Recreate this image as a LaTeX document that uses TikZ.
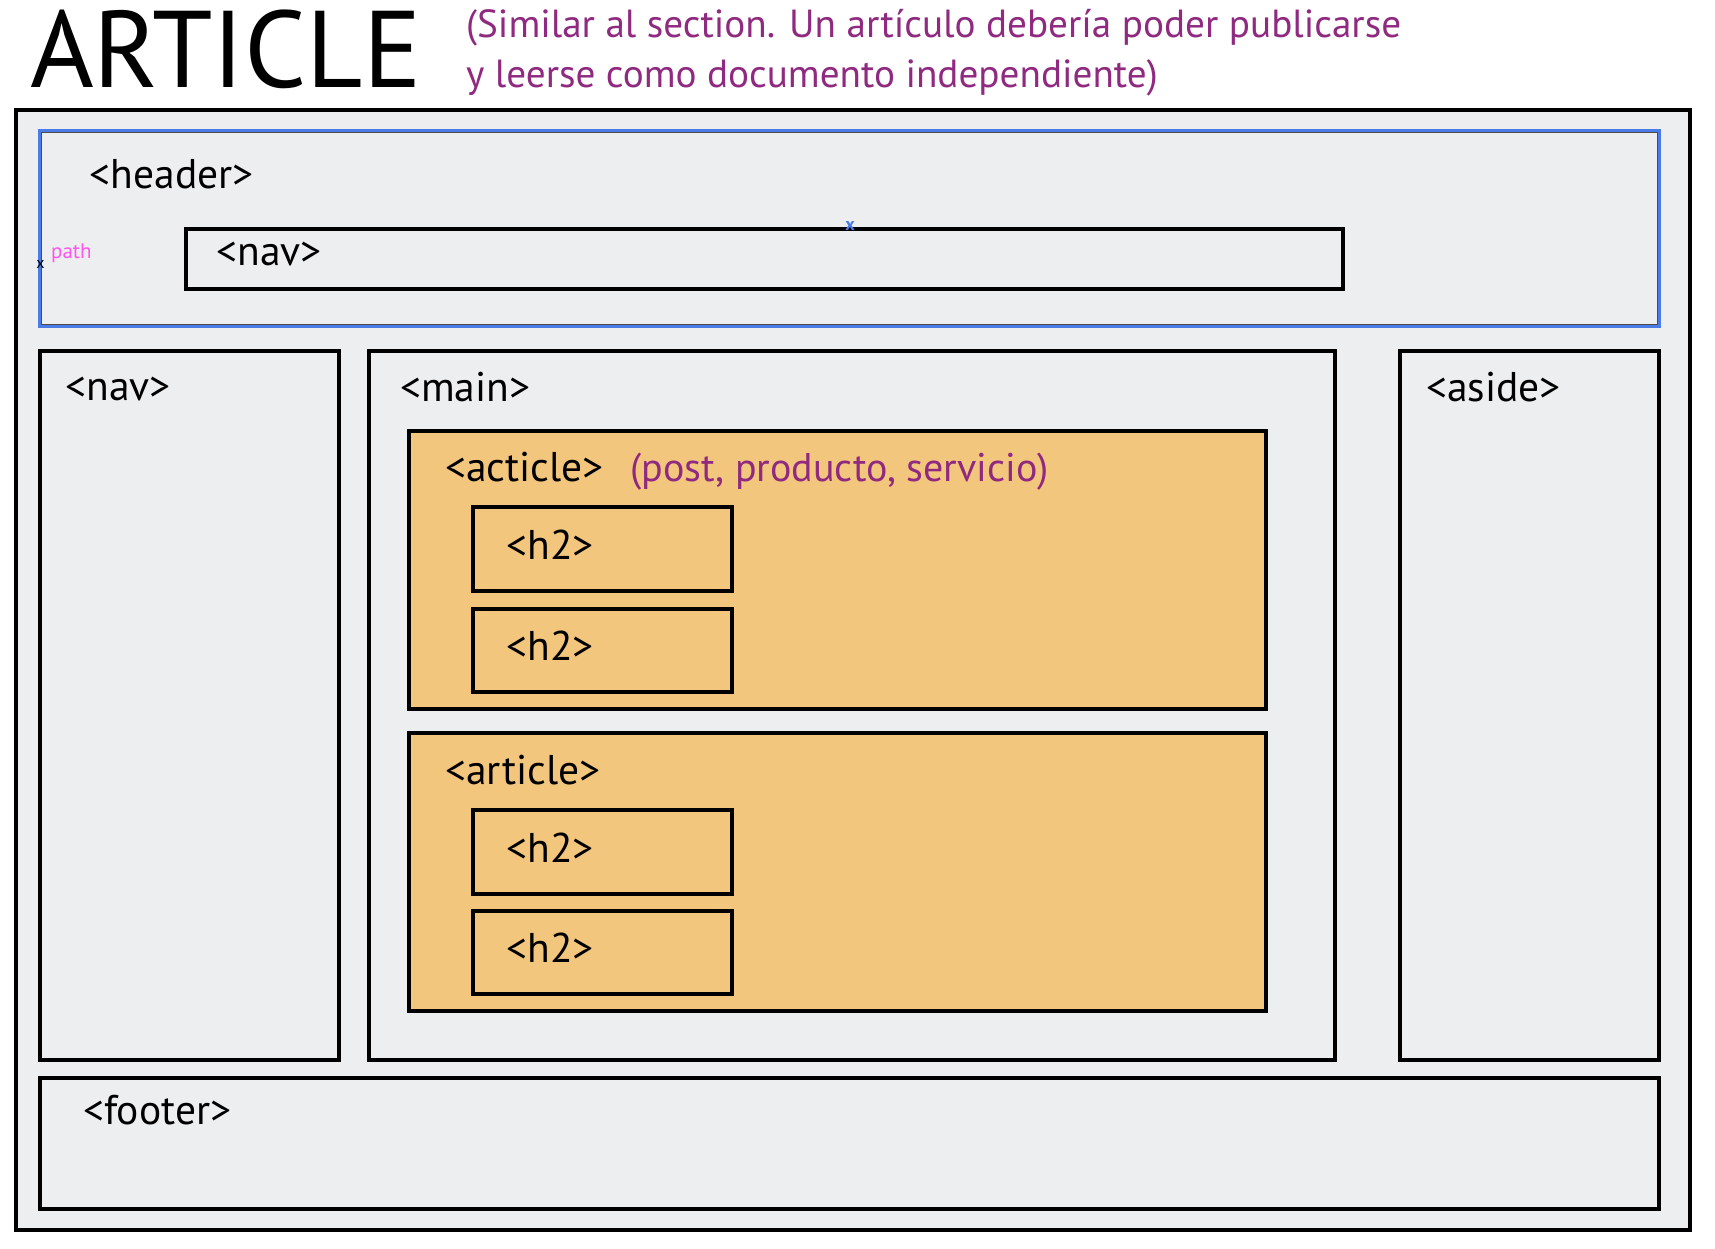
\documentclass[tikz,border=0pt]{standalone}
\usepackage{fontspec}
\setmainfont{PT Sans}
\definecolor{bgray}{HTML}{EDEEF0}
\definecolor{orng}{HTML}{F3C67D}
\definecolor{purp}{HTML}{8F2A80}
\definecolor{magn}{HTML}{FF55EE}
\definecolor{blu}{HTML}{4A7BE6}
\tikzset{
  box/.style={draw=black, line width=4pt, fill=bgray},
  obox/.style={draw=black, line width=4pt, fill=orng},
  lbl/.style={anchor=base west, inner sep=0pt, font=\fontsize{41.5}{48}\selectfont},
  plbl/.style={anchor=base west, inner sep=0pt, text=purp, font=\fontsize{40}{48}\selectfont},
}
\begin{document}
\begin{tikzpicture}[x=1pt,y=-1pt]
\useasboundingbox (0,0) rectangle (1715,1248);
\fill[white] (0,0) rectangle (1715,1248);
% outer frame
\draw[box] (15.5,109.5) rectangle (1689.5,1230);
% header
\fill[bgray] (39.5,130) rectangle (1659,326);
\draw[blu, line width=3pt] (39.5,130) rectangle (1659,326);
\draw[black!70, line width=0.6pt] (41.5,132) rectangle (1657,324);
\draw[box] (186,229) rectangle (1343,289);
% columns
\draw[box] (39.5,351) rectangle (339,1060);
\draw[box] (368.5,351) rectangle (1334.5,1060);
\draw[box] (1400,351) rectangle (1659,1060);
\draw[box] (39.5,1078) rectangle (1659,1209);
% articles
\draw[obox] (409,430.5) rectangle (1266,708.5);
\draw[obox] (409,733) rectangle (1266,1011);
\draw[obox] (473,507) rectangle (731.5,590.5);
\draw[obox] (473,608.5) rectangle (731.5,691.5);
\draw[obox] (473,810) rectangle (731.5,893.5);
\draw[obox] (473,910.5) rectangle (731.5,994);
% title
\node[anchor=base west, inner sep=0pt, font=\fontsize{109}{120}\selectfont] (title) at (30,87.5) {ARTICLE};
\node[anchor=north west, inner sep=0pt, text=purp, align=left, font=\fontsize{39.2}{49.5}\selectfont] (sub) at (466,9.5) {(Similar al section. Un artículo debería poder publicarse\\y leerse como documento independiente)};
% labels
\node[lbl] (lheader) at (89.5,188) {<header>};
\node[lbl] (lnav1) at (216.5,265) {<nav>};
\node[lbl] (lnav2) at (65.5,400) {<nav>};
\node[lbl] (lmain) at (400,401) {<main>};
\node[lbl] (laside) at (1426,401) {<aside>};
\node[lbl] (lacticle) at (445,481) {<acticle>};
\node[plbl] (lpost) at (630,481) {(post, producto, servicio)};
\node[lbl] (larticle) at (445,784) {<article>};
\node[lbl] (lh2a) at (506.5,559) {<h2>};
\node[lbl] (lh2b) at (506.5,660) {<h2>};
\node[lbl] (lh2c) at (506.5,862) {<h2>};
\node[lbl] (lh2d) at (506.5,962.5) {<h2>};
\node[lbl] (lfooter) at (83,1124) {<footer>};
% editor marks
\node[anchor=base west, inner sep=0pt, text=magn, font=\fontsize{21}{24}\selectfont] (lpath) at (51,258) {path};
\node[inner sep=0pt, font=\fontsize{16}{18}\selectfont] (xmark1) at (40.5,264) {x};
\node[inner sep=0pt, text=blu, font=\bfseries\fontsize{18}{20}\selectfont] (xmark2) at (850,226) {x};
\end{tikzpicture}
\end{document}
